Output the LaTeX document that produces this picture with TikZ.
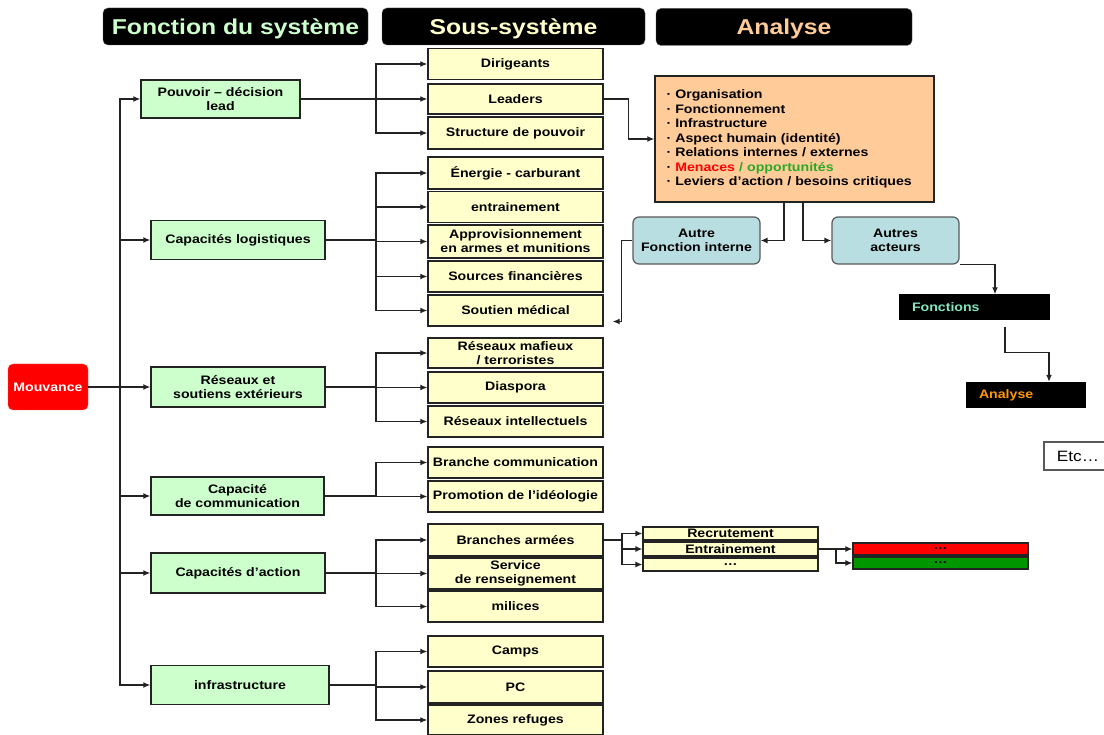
\documentclass[tikz,border=0pt]{standalone}
\usepackage{fontspec}
\setmainfont{Liberation Sans}[FakeStretch=1.15]
\usetikzlibrary{arrows.meta, positioning, calc}
\definecolor{edge}{RGB}{35,35,35}
\definecolor{fonccol}{RGB}{204,255,204}
\definecolor{souscol}{RGB}{255,255,204}
\definecolor{anacol}{RGB}{255,204,153}
\definecolor{autrecol}{RGB}{185,222,226}
\definecolor{mouvcol}{RGB}{255,0,0}
\definecolor{oppcol}{RGB}{40,170,40}
\definecolor{vertcol}{RGB}{0,150,0}
\definecolor{mint}{RGB}{130,230,190}
\definecolor{amber}{RGB}{255,153,0}
\newcommand{\boxfont}{\fontsize{12.3}{14}\selectfont\bfseries}
\tikzset{
  header/.style={rectangle, rounded corners=5pt, fill=black, draw=gray!70!black,
                 minimum height=37pt, text depth=0pt,
                 font=\fontsize{21.5}{24}\selectfont\bfseries},
  fonction/.style={rectangle, draw=edge, line width=1.4pt, fill=fonccol,
                   minimum width=174pt, minimum height=39pt, align=center,
                   inner ysep=1pt, font=\boxfont},
  soussys/.style={rectangle, draw=edge, line width=1.4pt, fill=souscol,
                  minimum width=175pt, minimum height=31pt, align=center,
                  inner ysep=1pt, font=\boxfont},
  detail/.style={rectangle, draw=edge, line width=1.2pt, fill=souscol,
                 minimum width=175pt, minimum height=13pt, inner sep=0pt,
                 font=\boxfont},
  niveau/.style={rectangle, draw=edge, line width=1.2pt, minimum width=175pt,
                 minimum height=12pt, inner sep=0pt, font=\boxfont},
  autre/.style={rectangle, rounded corners=6pt, draw=gray!70!black, line width=1.2pt,
                fill=autrecol, minimum width=127pt, minimum height=47pt,
                align=center, font=\boxfont},
  noir/.style={rectangle, fill=black, minimum height=26pt, inner xsep=13pt,
               font=\boxfont},
  arrow/.style={-{Latex[length=7pt,width=6pt]}, line width=1.3pt, color=edge},
  link/.style={line width=1.3pt, color=edge},
}

\begin{document}
\begin{tikzpicture}[x=1pt, y=-1pt]
  \useasboundingbox (0,0) rectangle (1104,735);

  % en-tetes
  \node[header, text=fonccol, minimum width=265pt] (hfonc) at (235.5,26.5) {Fonction du système};
  \node[header, text=souscol, minimum width=263pt] (hsous) at (513.5,26.5) {Sous-système};
  \node[header, text=anacol, minimum width=256pt] (hana) at (784,27) {Analyse};

  \node[rectangle, rounded corners=5pt, fill=mouvcol, draw=mouvcol!70!white,
        minimum width=80pt, minimum height=46pt, text=white, font=\boxfont]
        (mouv) at (48,387) {Mouvance};

  % fonctions du systeme
  \node[fonction, minimum width=159pt, minimum height=38pt] (pouv) at (220.5,99) {Pouvoir – décision\\lead};
  \node[fonction] (logi) at (238,240) {Capacités logistiques};
  \node[fonction, minimum height=40pt] (rese) at (238,387) {Réseaux et\\soutiens extérieurs};
  \node[fonction, minimum width=173pt, minimum height=38pt] (comm) at (237.5,496) {Capacité\\de communication};
  \node[fonction, minimum height=40pt] (acti) at (238,573) {Capacités d’action};
  \node[fonction, minimum width=178pt] (infr) at (240,685) {infrastructure};

  % sous-systemes
  \node[soussys] (dirig) at (515.5,64) {Dirigeants};
  \node[soussys, minimum height=30pt] (lead) at (515.5,99) {Leaders};
  \node[soussys, minimum height=32pt] (struc) at (515.5,133) {Structure de pouvoir};
  \node[soussys, minimum height=32pt] (ener) at (515.5,173) {Énergie - carburant};
  \node[soussys] (entr) at (515.5,207) {entrainement};
  \node[soussys, minimum height=33pt] (appro) at (515.5,241.5) {Approvisionnement\\en armes et munitions};
  \node[soussys] (sourc) at (515.5,276.5) {Sources financières};
  \node[soussys] (soutien) at (515.5,310.5) {Soutien médical};
  \node[soussys, minimum height=30pt] (mafia) at (515.5,353) {Réseaux mafieux\\/ terroristes};
  \node[soussys] (diasp) at (515.5,387.5) {Diaspora};
  \node[soussys] (intel) at (515.5,421.5) {Réseaux intellectuels};
  \node[soussys] (branc) at (515.5,462.5) {Branche communication};
  \node[soussys] (promo) at (515.5,496.5) {Promotion de l’idéologie};
  \node[soussys, minimum height=32pt] (armee) at (515.5,540) {Branches armées};
  \node[soussys] (rens) at (515.5,573.5) {Service\\de renseignement};
  \node[soussys] (milic) at (515.5,606.5) {milices};
  \node[soussys] (camps) at (515.5,651.5) {Camps};
  \node[soussys, minimum height=32pt] (pc) at (515.5,687) {PC};
  \node[soussys, minimum height=30pt] (zones) at (515.5,720) {Zones refuges};

  % analyse
  \node[rectangle, draw=edge, line width=1.4pt, fill=anacol, minimum width=279pt,
        minimum height=126pt, text width=256pt, inner xsep=11.5pt, align=left,
        font=\fontsize{12.3}{14.5}\selectfont\bfseries] (anal) at (794.5,139)
        {· Organisation\\
         · Fonctionnement\\
         · Infrastructure\\
         · Aspect humain (identité)\\
         · Relations internes / externes\\
         · \textcolor{mouvcol}{Menaces} \textcolor{oppcol}{/ opportunités}\\
         · Leviers d’action / besoins critiques};

  \node[autre] (afi) at (696.5,240.5) {Autre\\Fonction interne};
  \node[autre] (aac) at (895.5,240.5) {Autres\\acteurs};
  \node[noir, minimum width=151pt, text width=125pt, text=mint] (fonct) at (974.5,307.5) {Fonctions};
  \node[noir, minimum width=120pt, text width=94pt, text=amber] (ana2) at (1026,395) {Analyse};
  \node[rectangle, draw=gray!70!black, line width=1.2pt, fill=white, minimum width=68pt,
        minimum height=28pt, font=\fontsize{15}{18}\selectfont] (etc) at (1078,456) {Etc…};

  % details branches armees
  \node[detail] (recr) at (730.5,533.5) {Recrutement};
  \node[detail, minimum height=14pt] (entrn) at (730.5,549) {Entrainement};
  \node[detail] (suite) at (730.5,564.5) {…};
  \node[niveau, fill=mouvcol] (rouge) at (940.5,549) {…};
  \node[niveau, fill=vertcol] (vert) at (940.5,563) {…};

  % liaisons
  \coordinate (trunk) at (120,387);
  \coordinate (bx) at (376,0);
  \draw[link] (mouv.east) -- (trunk);
  \foreach \f in {pouv,logi,rese,comm,acti,infr}
    \draw[arrow] (trunk) |- (\f.west);
  \foreach \src/\dst in {pouv/dirig, pouv/lead, pouv/struc,
                         logi/ener, logi/entr, logi/appro, logi/sourc, logi/soutien,
                         rese/mafia, rese/diasp, rese/intel,
                         comm/branc, comm/promo,
                         acti/armee, acti/rens, acti/milic,
                         infr/camps, infr/pc, infr/zones}
    \draw[arrow] (\src.east) -- (\src.east -| bx) |- (\dst.west);

  \draw[arrow] (lead.east) -- ++(25,0) |- (anal.west);
  \draw[arrow] ([xshift=-10.5pt]anal.south) |- (afi.east);
  \draw[arrow] ([xshift=8.5pt]anal.south) |- (aac.west);
  \draw[arrow] (afi.west) -- ++(-11,0) |- ([xshift=9pt,yshift=-11pt]soutien.east);
  \draw[arrow] (aac.south east) -| ([xshift=20.5pt]fonct.north);
  \draw[arrow] ([xshift=30.5pt,yshift=-6pt]fonct.south) -- ++(0,26) -| ([xshift=23pt]ana2.north);

  \coordinate (barm) at (622,540);
  \draw[link] (armee.east) -- (barm);
  \foreach \d in {recr,entrn,suite}
    \draw[arrow] (barm) |- (\d.west);
  \coordinate (bentr) at (836,549);
  \draw[link] (entrn.east) -- (bentr);
  \foreach \d in {rouge,vert}
    \draw[arrow] (bentr) |- (\d.west);
\end{tikzpicture}
\end{document}
